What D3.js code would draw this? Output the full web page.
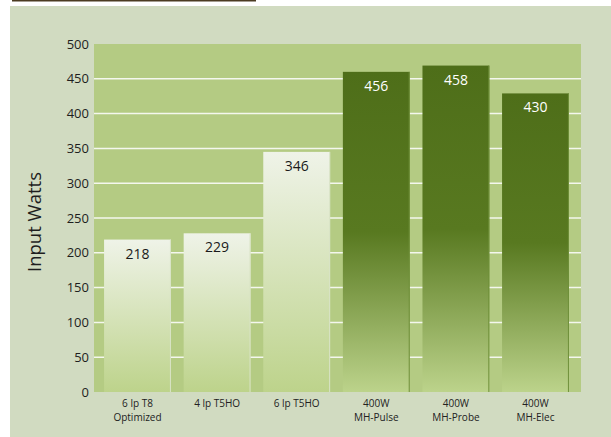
<!DOCTYPE html>
<html>
<head>
<meta charset="utf-8">
<script src="https://cdn.jsdelivr.net/npm/d3@7"></script>
<style>
  body { margin: 0; background: #fff; }
  text { font-family: "Open Sans", "Noto Sans", sans-serif; }
</style>
</head>
<body>
<div id="chart"></div>
<script>
// categories, two lines each
const categories = ["6 lp T8|Optimized", "4 lp T5HO", "6 lp T5HO", "400W|MH-Pulse", "400W|MH-Probe", "400W|MH-Elec"];
// printed labels
const labelValues = [218, 229, 346, 456, 458, 430];
// heights as drawn in the picture (bars are not exactly at their labels)
const barValues = [219, 228, 345, 460, 469, 429];
// light bars vs dark bars
const barKind = ["light", "light", "light", "dark", "dark", "dark"];
const yTicks = [0, 50, 100, 150, 200, 250, 300, 350, 400, 450, 500];

const width = 611, height = 437;
const plot = { left: 94, right: 581, top: 44, bottom: 392 };

const svg = d3.select("#chart").append("svg")
    .attr("width", width)
    .attr("height", height);

const defs = svg.append("defs");
const light = defs.append("linearGradient").attr("id", "gLight")
    .attr("x1", 0).attr("y1", 0).attr("x2", 0).attr("y2", 1);
light.append("stop").attr("offset", "0%").attr("stop-color", "#eff3e8");
light.append("stop").attr("offset", "100%").attr("stop-color", "#bdd38b");
const dark = defs.append("linearGradient").attr("id", "gDark")
    .attr("x1", 0).attr("y1", 0).attr("x2", 0).attr("y2", 1);
dark.append("stop").attr("offset", "0%").attr("stop-color", "#4e6e19");
dark.append("stop").attr("offset", "50%").attr("stop-color", "#587920");
dark.append("stop").attr("offset", "100%").attr("stop-color", "#bcd38b");

// top rule and background panel
svg.append("rect").attr("x", 12).attr("y", 0).attr("width", 244).attr("height", 1.5).attr("fill", "#4b3b22");
svg.append("rect").attr("x", 10).attr("y", 6).attr("width", width - 10).attr("height", height - 6).attr("fill", "#d1dbc1");

const x = d3.scaleBand()
    .domain(categories)
    .range([97.7, 575.3])
    .paddingInner(0.16)
    .paddingOuter(0.08);

const y = d3.scaleLinear()
    .domain([0, 500])
    .range([plot.bottom, plot.top]);

// plot area
svg.append("rect")
    .attr("x", plot.left).attr("y", plot.top)
    .attr("width", plot.right - plot.left).attr("height", plot.bottom - plot.top)
    .attr("fill", "#b4cb83");

// gridlines
svg.append("g").selectAll("line")
    .data(yTicks.filter(d => d > 0 && d < 500))
    .enter().append("line")
    .attr("x1", plot.left).attr("x2", plot.right)
    .attr("y1", d => y(d)).attr("y2", d => y(d))
    .attr("stroke", "#f4f7ee").attr("stroke-width", 1.5);

// y axis labels
const yAxis = svg.append("g")
    .attr("transform", `translate(${plot.left},0)`)
    .call(d3.axisLeft(y).tickValues(yTicks).tickSize(0).tickPadding(5));
yAxis.select(".domain").remove();
yAxis.selectAll("text")
    .style("font-family", "'Open Sans', sans-serif")
    .attr("font-size", 13).attr("fill", "#1e1e1e");

svg.append("text")
    .attr("transform", `translate(41,${(plot.top + plot.bottom) / 2 + 4}) rotate(-90)`)
    .attr("text-anchor", "middle")
    .attr("font-size", 18.5).attr("fill", "#1e1e1e")
    .text("Input Watts");

const data = categories.map((c, i) => ({ cat: c, h: barValues[i], label: labelValues[i], kind: barKind[i] }));

// bars
svg.append("g").selectAll("rect")
    .data(data)
    .enter().append("rect")
    .attr("x", d => x(d.cat))
    .attr("y", d => y(d.h))
    .attr("width", x.bandwidth())
    .attr("height", d => y(0) - y(d.h))
    .attr("fill", d => d.kind === "dark" ? "url(#gDark)" : "url(#gLight)");

// slight edge on right of bars
svg.append("g").selectAll("line")
    .data(data)
    .enter().append("line")
    .attr("x1", d => x(d.cat) + x.bandwidth() - 0.5)
    .attr("x2", d => x(d.cat) + x.bandwidth() - 0.5)
    .attr("y1", d => y(d.h)).attr("y2", y(0))
    .attr("stroke", d => d.kind === "dark" ? "#6f8f3a" : "#d9e3c6")
    .attr("stroke-width", 1);

// value labels
svg.append("g").selectAll("text")
    .data(data)
    .enter().append("text")
    .attr("x", d => x(d.cat) + x.bandwidth() / 2)
    .attr("y", d => y(d.h) + 19)
    .attr("text-anchor", "middle")
    .attr("font-size", 14)
    .attr("fill", d => d.kind === "dark" ? "#ffffff" : "#1a1a1a")
    .text(d => d.label);

// category labels, one text per line
const catLines = [];
categories.forEach(c => c.split("|").forEach((t, i) => catLines.push({ cat: c, text: t, line: i })));
svg.append("g").selectAll("text")
    .data(catLines)
    .enter().append("text")
    .attr("x", d => x(d.cat) + x.bandwidth() / 2)
    .attr("y", d => 407 + d.line * 14)
    .attr("text-anchor", "middle")
    .attr("font-size", 10)
    .attr("fill", "#222")
    .text(d => d.text);
</script>
</body>
</html>
